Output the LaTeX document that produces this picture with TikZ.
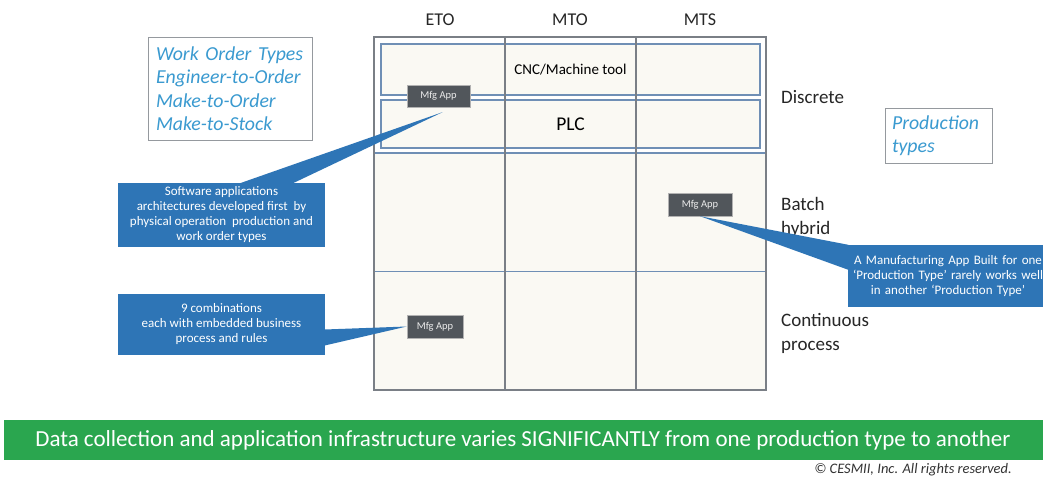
\documentclass[tikz,border=0pt]{standalone}
\usepackage{fontspec}
\setmainfont{Carlito}
\usetikzlibrary{calc}
\definecolor{gridblue}{HTML}{6F8FB5}
\definecolor{gridgray}{HTML}{7A7F86}
\definecolor{cellfill}{HTML}{FAF9F3}
\definecolor{txtblue}{HTML}{3A9AD0}
\definecolor{callblue}{HTML}{2E75B6}
\definecolor{appgray}{HTML}{51565B}
\definecolor{barGreen}{HTML}{2AA64F}
\begin{document}
\begin{tikzpicture}[x=1pt,y=-1pt,
  cell/.style={draw=gridblue,line width=1.1pt,fill=cellfill,minimum width=131pt,minimum height=119pt,inner sep=0pt},
  innerbox/.style={draw=gridblue,line width=1.3pt,fill=cellfill,minimum width=379pt,inner sep=0pt},
  hdr/.style={font=\fontsize{18}{21}\selectfont,text=black!85},
  rowlbl/.style={font=\fontsize{19}{24}\selectfont,text=black!85,align=left,anchor=west,inner sep=0pt},
  infobox/.style={draw=gridgray!80,line width=0.8pt,fill=white,align=left,text=txtblue,
     font=\fontsize{19.8}{23.5}\selectfont\itshape,inner sep=0pt},
  callout/.style={fill=callblue,text=white,align=center,inner sep=0pt,
     font=\fontsize{13}{15}\selectfont},
  tail/.style={fill=callblue},
  app/.style={fill=appgray,draw=gray!60,line width=0.4pt,text=white!92!black,
     font=\fontsize{10.5}{12}\selectfont,minimum height=22pt,inner sep=0pt}]
\useasboundingbox (0,0) rectangle (1043,481);
\fill[white] (0,0) rectangle (1043,481);

% grid cells
\node[cell] (b1) at (439.5,212.5) {};
\node[cell] (b2) at (570.5,212.5) {};
\node[cell] (b3) at (701,212.5) {};
\node[cell] (c1) at (439.5,331) {};
\node[cell] (c2) at (570.5,331) {};
\node[cell] (c3) at (701,331) {};
\node[draw=gridblue,line width=1.1pt,minimum width=392pt,minimum height=116pt,inner sep=0pt] (disc) at (570,95) {};
\node[innerbox,minimum height=51pt,font=\fontsize{15}{17}\selectfont] (cnc) at (570.5,69.5) {CNC/Machine tool};
\node[innerbox,minimum height=48pt,font=\fontsize{19.5}{21}\selectfont] (plc) at (570.5,124) {PLC};
\draw[gridgray,line width=1.4pt] (374,37) rectangle (766,390);
\draw[gridgray,line width=1.2pt] (505,37) -- (505,390);
\draw[gridgray,line width=1.2pt] (636,37) -- (636,390);

% headers
\node[hdr] (eto) at (440,20) {ETO};
\node[hdr] (mto) at (570,20) {MTO};
\node[hdr] (mts) at (700,20) {MTS};

% row labels
\node[rowlbl] (ldisc) at (781,97) {Discrete};
\node[rowlbl] (lbatch) at (781,217) {Batch\\hybrid};
\node[rowlbl] (lcont) at (781,333) {Continuous\\process};

% info boxes
\node[infobox,minimum width=164pt,minimum height=103pt,text width=148pt] (wot) at (230,88.5)
  {Work Order Types\\Engineer-to-Order\\Make-to-Order\\Make-to-Stock};
\node[infobox,minimum width=107pt,minimum height=55pt,text width=93pt] (ptypes) at (938.5,135.5)
  {Production\\types};

% Mfg App boxes
\node[app,minimum width=63pt] (app1) at (438.5,96) {Mfg App};
\node[app,minimum width=56pt,minimum height=23pt] (app2) at (435,326.5) {Mfg App};
\node[app,minimum width=64pt,minimum height=23pt] (app3) at (700,204.5) {Mfg App};

% callouts
\node[callout,minimum width=207pt,minimum height=64pt] (co1) at (221.5,215)
  {Software applications\\architectures developed first\ \ by\\physical operation\ \ production and\\work order types};
\node[callout,minimum width=207pt,minimum height=61pt] (co2) at (221.5,324.5)
  {9 combinations\\each with embedded business\\process and rules};
\node[callout,minimum width=200pt,minimum height=62pt,text width=196pt] (co3) at (948,276)
  {A Manufacturing App Built for one\\`Production Type' rarely works well\\in another `Production Type'};

\coordinate (tip1) at ($(app1.south)+(4,5)$);
\fill[tail] ($(co1.north west)+(122,0.5)$) -- (tip1) -- ($(co1.north west)+(175,0.5)$) -- cycle;
\fill[tail] ($(co2.east)+(-0.5,5)$) -- (app2.west) -- ($(co2.east)+(-0.5,21)$) -- cycle;
\fill[tail] (app3.south) -- ($(co3.north west)+(0.5,0)$) -- ($(co3.north west)+(0.5,25)$) -- cycle;

% bottom bar
\node[fill=barGreen,minimum width=1039pt,minimum height=40pt,inner sep=0pt,text=white,
  font=\fontsize{23}{25}\selectfont] (bar) at (523,440)
  {Data collection and application infrastructure varies SIGNIFICANTLY from one production type to another};
\node[anchor=east,inner sep=0pt,font=\fontsize{14.5}{16}\selectfont\itshape,text=black!80] (copy) at (1012,470)
  {© CESMII, Inc. All rights reserved.};
\end{tikzpicture}
\end{document}
